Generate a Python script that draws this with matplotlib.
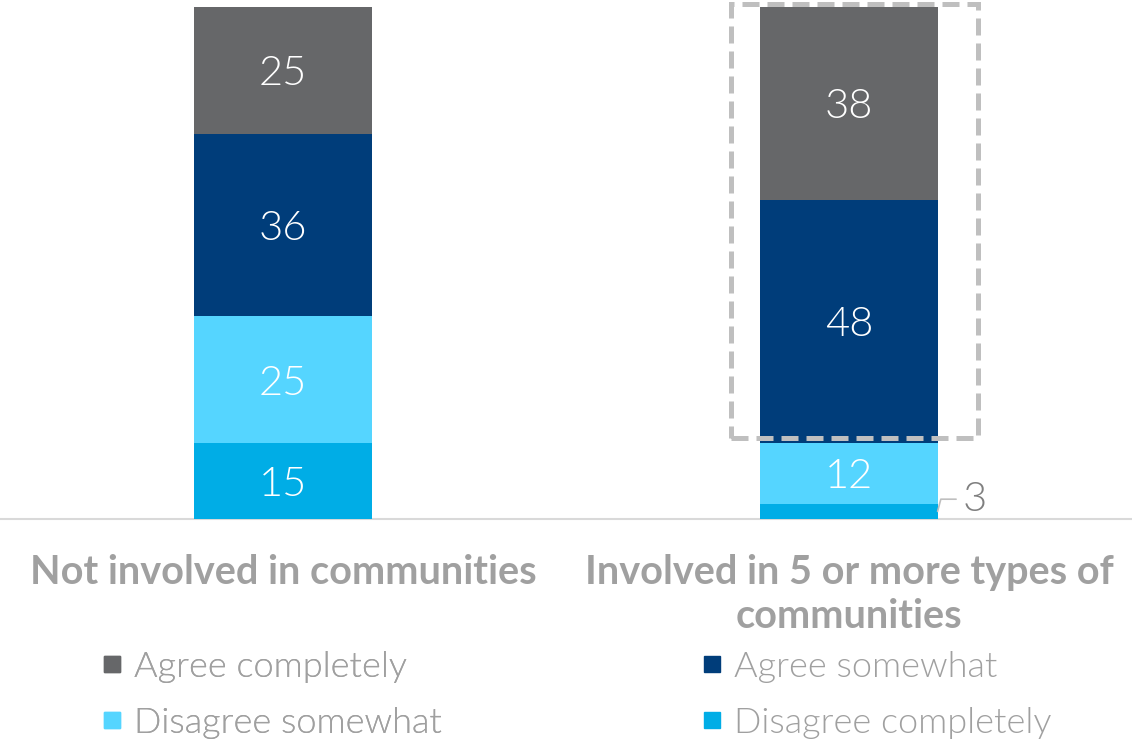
import matplotlib.pyplot as plt
from matplotlib.lines import Line2D
from matplotlib.patches import Rectangle

# Survey shares (%), stacked bottom -> top
grupos = ['Not involved in communities', 'Involved in 5 or more types of\ncommunities']
series = ['Disagree completely', 'Disagree somewhat', 'Agree somewhat', 'Agree completely']
discorda_total = [15, 3]
discorda_pouco = [25, 12]
concorda_pouco = [36, 48]
concorda_total = [25, 38]

valores = [discorda_total, discorda_pouco, concorda_pouco, concorda_total]
cores = ['#00ADE6', '#55D5FF', '#003D7A', '#666769']

FONTE = 'Lato'
CINZA_TEXTO = '#A0A0A0'
LARGURA = 0.313

fig = plt.figure(figsize=(11.32, 7.42), dpi=100)
ax = fig.add_axes([0, 1 - 519 / 742, 1, 512 / 742])
ax.set_xlim(-0.5, 1.5)
ax.set_ylim(0, 101)
ax.axis('off')

x = list(range(len(grupos)))
base = [0] * len(grupos)
for vals, cor in zip(valores, cores):
    ax.bar(x, vals, LARGURA, bottom=base, color=cor, zorder=2)
    for i, (v, b0) in enumerate(zip(vals, base)):
        if v >= 10:
            ax.text(i, b0 + v / 2, str(v), ha='center', va='center_baseline', color='white',
                    fontsize=30, family=FONTE, fontweight=300, zorder=3)
    base = [b0 + v for b0, v in zip(base, vals)]

# small segment labelled outside with a leader line
v_pequeno = discorda_total[1]
ax.annotate(str(v_pequeno), xy=(1 + LARGURA / 2, v_pequeno / 2),
            xytext=(1 + LARGURA / 2 + 0.045, v_pequeno + 1.6),
            ha='left', va='center_baseline', color='#7F7F7F', fontsize=30, family=FONTE,
            fontweight=300,
            arrowprops=dict(arrowstyle='-', color='#BFBFBF', lw=1.2,
                            shrinkA=3, shrinkB=0, relpos=(0, 0.5),
                            connectionstyle='angle,angleA=0,angleB=75,rad=0'))

# dashed highlight around the "agree" part of the second bar
inferior = discorda_total[1] + discorda_pouco[1] + 1
superior = base[1] + 0.6
destaque = Rectangle((1 - 0.209, inferior), 0.437, superior - inferior, fill=False,
                     edgecolor='#BFBFBF', lw=3.6, linestyle=(0, (3.4, 1.6)),
                     clip_on=False, zorder=4)
ax.add_patch(destaque)

ax.axhline(0, color='#D9D9D9', lw=1.5, zorder=1, clip_on=False)

# category labels below the baseline
trans = ax.get_xaxis_transform()
for i, g in enumerate(grupos):
    ax.text(i, -0.068, g, transform=trans, ha='center', va='top', color=CINZA_TEXTO,
            fontsize=28.5, family=FONTE, fontweight='bold', linespacing=1.25,
            multialignment='center')

# legend in two columns
def marcador(cor):
    return Line2D([], [], marker='s', color=cor, linestyle='none', markersize=11.5)

estilo_legenda = dict(loc='upper left', frameon=False, handlelength=0.6, handletextpad=0.3,
                      labelspacing=0.66, borderpad=0, borderaxespad=0,
                      prop=dict(family=FONTE, size=26, weight=300),
                      labelcolor=CINZA_TEXTO)
leg_esq = fig.legend([marcador(cores[3]), marcador(cores[1])], [series[3], series[1]],
                     bbox_to_anchor=(101 / 1132, 1 - 651 / 742), **estilo_legenda)
fig.add_artist(leg_esq)
fig.legend([marcador(cores[2]), marcador(cores[0])], [series[2], series[0]],
           bbox_to_anchor=(701 / 1132, 1 - 651 / 742), **estilo_legenda)

fig.savefig('out.png', dpi=100)
